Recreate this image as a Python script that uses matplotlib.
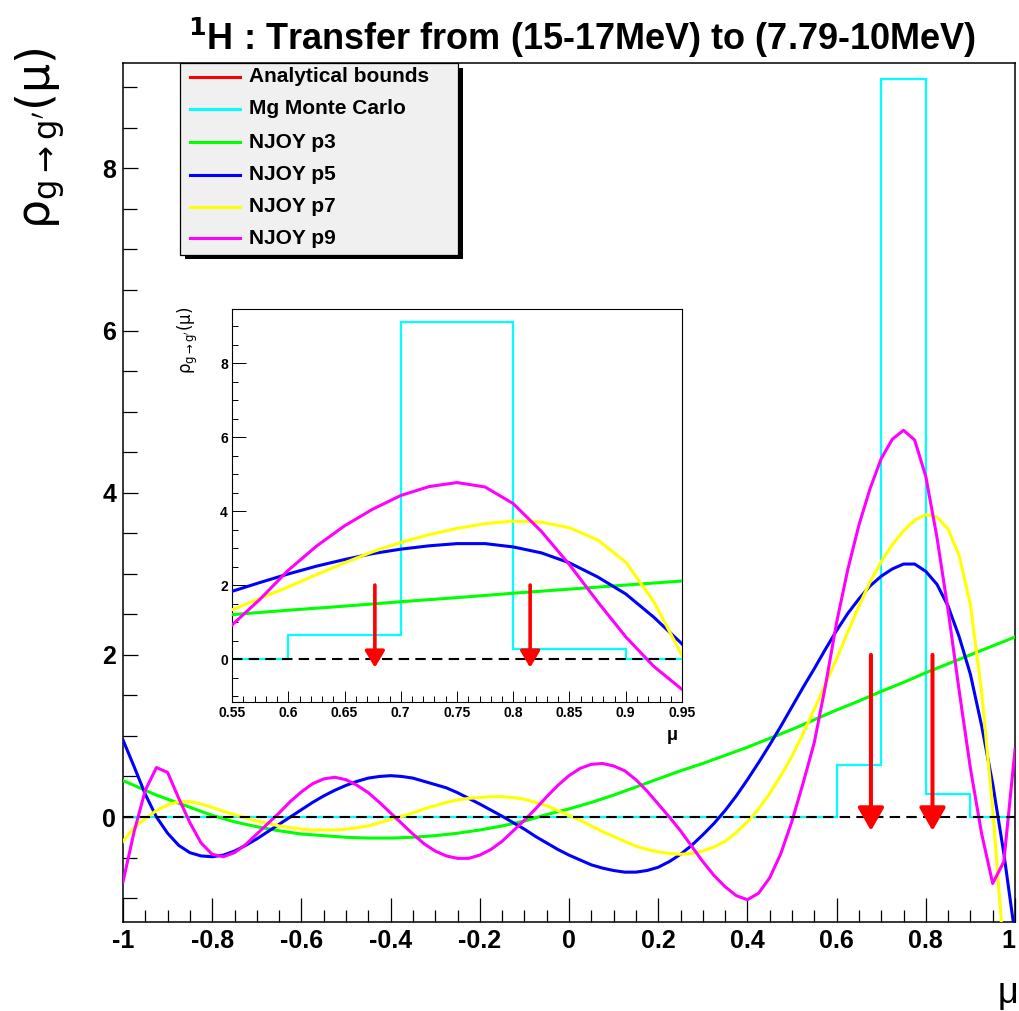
import numpy as np
import matplotlib
matplotlib.use("Agg")
import matplotlib.pyplot as plt
from matplotlib.patches import Rectangle
from matplotlib.lines import Line2D
from matplotlib.ticker import MultipleLocator

plt.rcParams['font.family'] = ['Liberation Sans', 'DejaVu Sans']

# sample positions in mu (read every 0.025)
mu = np.round(np.arange(-1.0, 1.0001, 0.025), 3)

njoy_p3 = [0.45, 0.39, 0.33, 0.27, 0.22, 0.17, 0.12, 0.07, 0.02, -0.02,
           -0.06, -0.09, -0.12, -0.145, -0.17, -0.19, -0.21, -0.22, -0.23, -0.24,
           -0.25, -0.255, -0.26, -0.26, -0.26, -0.255, -0.25, -0.24, -0.23, -0.215,
           -0.20, -0.18, -0.16, -0.135, -0.11, -0.08, -0.05, -0.01, 0.03, 0.065,
           0.10, 0.14, 0.18, 0.225, 0.27, 0.32, 0.37, 0.42, 0.47, 0.52,
           0.57, 0.615, 0.66, 0.71, 0.76, 0.81, 0.86, 0.915, 0.97, 1.025,
           1.08, 1.14, 1.20, 1.26, 1.32, 1.375, 1.43, 1.49, 1.55, 1.605,
           1.66, 1.72, 1.78, 1.835, 1.89, 1.945, 2.0, 2.055, 2.11, 2.165,
           2.22]

njoy_p5 = [0.95, 0.62, 0.28, 0.0, -0.20, -0.35, -0.44, -0.48, -0.49, -0.47,
           -0.42, -0.35, -0.27, -0.18, -0.09, 0.0, 0.09, 0.18, 0.26, 0.33,
           0.39, 0.44, 0.48, 0.50, 0.51, 0.50, 0.48, 0.44, 0.40, 0.36,
           0.30, 0.23, 0.16, 0.085, 0.01, -0.07, -0.15, -0.24, -0.32, -0.40,
           -0.47, -0.53, -0.59, -0.63, -0.66, -0.68, -0.68, -0.66, -0.62, -0.55,
           -0.46, -0.35, -0.22, -0.08, 0.08, 0.26, 0.46, 0.67, 0.89, 1.12,
           1.36, 1.60, 1.83, 2.07, 2.30, 2.51, 2.69, 2.85, 2.97, 3.06,
           3.12, 3.12, 3.03, 2.87, 2.60, 2.22, 1.76, 1.13, 0.41, -0.45,
           -1.45]

njoy_p7 = [-0.30, -0.13, -0.02, 0.08, 0.15, 0.19, 0.19, 0.16, 0.12, 0.07,
           0.03, -0.01, -0.05, -0.08, -0.11, -0.13, -0.15, -0.16, -0.16, -0.16,
           -0.15, -0.13, -0.11, -0.07, -0.03, 0.01, 0.05, 0.10, 0.14, 0.18,
           0.21, 0.23, 0.24, 0.25, 0.25, 0.24, 0.22, 0.18, 0.14, 0.08,
           0.02, -0.04, -0.11, -0.18, -0.24, -0.30, -0.36, -0.40, -0.43, -0.45,
           -0.46, -0.45, -0.42, -0.37, -0.30, -0.19, -0.06, 0.10, 0.29, 0.51,
           0.75, 1.03, 1.33, 1.64, 1.95, 2.28, 2.60, 2.90, 3.15, 3.36,
           3.53, 3.66, 3.73, 3.70, 3.55, 3.22, 2.62, 1.55, 0.10, -1.70,
           -3.8]

njoy_p9 = [-0.80, -0.18, 0.33, 0.61, 0.55, 0.23, -0.07, -0.32, -0.46, -0.49,
           -0.44, -0.34, -0.21, -0.08, 0.05, 0.19, 0.31, 0.41, 0.47, 0.49,
           0.46, 0.39, 0.30, 0.18, 0.05, -0.08, -0.21, -0.33, -0.42, -0.48,
           -0.51, -0.51, -0.47, -0.40, -0.30, -0.17, -0.04, 0.10, 0.25, 0.39,
           0.51, 0.60, 0.65, 0.66, 0.63, 0.57, 0.46, 0.32, 0.16, 0.00,
           -0.17, -0.36, -0.55, -0.72, -0.86, -0.97, -1.02, -0.94, -0.75, -0.45,
           -0.05, 0.42, 0.92, 1.62, 2.40, 3.05, 3.60, 4.05, 4.42, 4.66,
           4.77, 4.65, 4.20, 3.45, 2.55, 1.55, 0.60, -0.20, -0.82, -0.55,
           0.83]

mc_edges = [-1.0, -0.9, -0.8, -0.7, -0.6, -0.5, -0.4, -0.3, -0.2, -0.1, 0.0,
            0.1, 0.2, 0.3, 0.4, 0.5, 0.6, 0.7, 0.8, 0.9, 1.0]
mc_values = [0, 0, 0, 0, 0, 0, 0, 0, 0, 0, 0, 0, 0, 0, 0, 0, 0.64, 9.1, 0.28, 0]

bounds = [0.677, 0.815]

legend_labels = ['Analytical bounds', 'Mg Monte Carlo', 'NJOY p3', 'NJOY p5', 'NJOY p7', 'NJOY p9']
legend_colors = ['#ff0000', '#00ffff', '#00ff00', '#0000ff', '#ffff00', '#ff00ff']

W, H = 1019, 1011
fig = plt.figure(figsize=(W / 100, H / 100), dpi=100)


def px(l, t, r, b):
    return [l / W, 1 - b / H, (r - l) / W, (b - t) / H]


def draw(ax, head_len, head_w, lw_arrow, tip):
    ax.stairs(mc_values, mc_edges, baseline=None, color='#00ffff', lw=1.6, zorder=2)
    for ys, c in zip([njoy_p3, njoy_p5, njoy_p7, njoy_p9], legend_colors[2:]):
        ax.plot(mu, ys, color=c, lw=2.2, zorder=3)
    ax.axhline(0, color='black', lw=1.5, ls=(0, (5, 3)), zorder=4)
    for b in bounds:
        ax.annotate('', xy=(b, tip), xytext=(b, 2.0),
                    arrowprops=dict(arrowstyle='-|>,head_length=%g,head_width=%g' % (head_len, head_w),
                                    color='#ff0000', lw=lw_arrow, mutation_scale=1,
                                    shrinkA=0, shrinkB=0), zorder=5)


# main panel
ax = fig.add_axes(px(123, 63, 1015, 922))
draw(ax, 14, 8, 2.9, -0.17)
ax.set_xlim(-1, 1)
ax.set_ylim(-1.295, 9.30)
ax.set_xticks([-1, -0.8, -0.6, -0.4, -0.2, 0, 0.2, 0.4, 0.6, 0.8, 1],
              ['-1', '-0.8', '-0.6', '-0.4', '-0.2', '0', '0.2', '0.4', '0.6', '0.8', '1'])
ax.set_yticks([0, 2, 4, 6, 8], ['0', '2', '4', '6', '8'])
ax.xaxis.set_minor_locator(MultipleLocator(0.05))
ax.yaxis.set_minor_locator(MultipleLocator(0.5))
ax.tick_params(axis='x', which='major', direction='in', length=17, width=0.9, pad=5,
               labelsize=18, top=False)
ax.tick_params(axis='x', which='minor', direction='in', length=8.5, width=0.9, top=False)
ax.tick_params(axis='y', which='major', direction='in', length=11, width=0.9, pad=5,
               labelsize=18, right=False)
ax.tick_params(axis='y', which='minor', direction='in', length=10, width=0.9, right=False)
for lab in ax.get_xticklabels() + ax.get_yticklabels():
    lab.set_fontweight('bold')
ax.get_xticklabels()[-1].set_ha('right')
for s in ax.spines.values():
    s.set_linewidth(1.1)

# inset panel
ins = fig.add_axes(px(232, 309, 682, 702))
draw(ins, 10, 6, 2.6, -0.23)
ins.set_xlim(0.55, 0.95)
ins.set_ylim(-1.16, 9.46)
ins.set_xticks([0.55, 0.6, 0.65, 0.7, 0.75, 0.8, 0.85, 0.9, 0.95],
               ['0.55', '0.6', '0.65', '0.7', '0.75', '0.8', '0.85', '0.9', '0.95'])
ins.set_yticks([0, 2, 4, 6, 8], ['0', '2', '4', '6', '8'])
ins.xaxis.set_minor_locator(MultipleLocator(0.01))
ins.yaxis.set_minor_locator(MultipleLocator(0.5))
ins.tick_params(axis='x', which='major', direction='in', length=8, width=0.7, pad=3,
                labelsize=10, top=False)
ins.tick_params(axis='x', which='minor', direction='in', length=4, width=0.7, top=False)
ins.tick_params(axis='y', which='major', direction='in', length=10, width=0.7, pad=3,
                labelsize=10, right=False)
ins.tick_params(axis='y', which='minor', direction='in', length=4.5, width=0.7, right=False)
for lab in ins.get_xticklabels() + ins.get_yticklabels():
    lab.set_fontweight('bold')
for s in ins.spines.values():
    s.set_linewidth(0.8)

# texts
fig.text(582 / W, 1 - 38 / H, r'$^{\mathbf{1}}$H : Transfer from (15-17MeV) to (7.79-10MeV)',
         ha='center', va='center', fontsize=26, fontweight='bold')
fig.text(40 / W, 1 - 48 / H, r'$\mathrm{\rho_{g\rightarrow g^{\prime}}(\mu)}$', rotation=90,
         ha='center', va='top', fontsize=33)
fig.text(1008 / W, 1 - 994 / H, 'μ', ha='center', va='center', fontsize=26)
fig.text(188 / W, 1 - 307 / H, r'$\mathrm{\rho_{g\rightarrow g^{\prime}}(\mu)}$', rotation=90,
         ha='center', va='top', fontsize=12)
fig.text(672 / W, 1 - 736 / H, 'μ', ha='center', va='center', fontsize=13, fontweight='bold')

# legend box drawn in pixel coordinates
ov = fig.add_axes([0, 0, 1, 1])
ov.set_xlim(0, W)
ov.set_ylim(H, 0)
ov.axis('off')
ov.add_patch(Rectangle((185, 68), 278, 191, facecolor='black', edgecolor='none'))
ov.add_patch(Rectangle((180, 63), 278, 192, facecolor='#f0f0f0', edgecolor='black', lw=0.9))
legend_y = [77, 109, 142, 175, 207, 238]
for yy, lab, c in zip(legend_y, legend_labels, legend_colors):
    ov.add_line(Line2D([190, 240], [yy, yy], color=c, lw=2.2))
    ov.text(249, yy, lab, ha='left', va='center', fontsize=15, fontweight='bold')

fig.savefig('out.png', dpi=100)
